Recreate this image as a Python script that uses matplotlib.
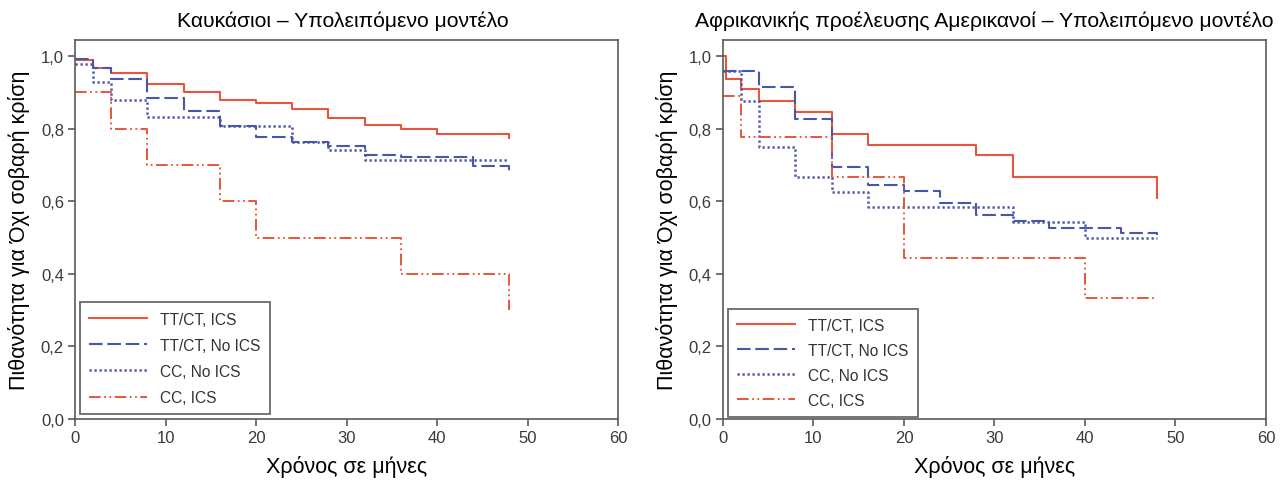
import matplotlib
matplotlib.use("Agg")
import matplotlib.pyplot as plt
from matplotlib.ticker import FuncFormatter

plt.rcParams['font.family'] = ['Liberation Sans', 'DejaVu Sans']

RED = '#e8553d'
BLUE = '#4a57a8'
FRAME = '#5a5a5a'

labels = ["TT/CT, ICS", "TT/CT, No ICS", "CC, No ICS", "CC, ICS"]
titles = ["Καυκάσιοι – Υπολειπόμενο μοντέλο",
          "Αφρικανικής προέλευσης Αμερικανοί – Υπολειπόμενο μοντέλο"]
xlabel = "Χρόνος σε μήνες"
ylabel = "Πιθανότητα για Όχι σοβαρή κρίση"
xticks = [0, 10, 20, 30, 40, 50, 60]
yticks = [0.0, 0.2, 0.4, 0.6, 0.8, 1.0]

# Caucasian panel: step times (months) and survival estimates
cau_t_ttct_ics = [0, 2, 4, 8, 12, 16, 20, 24, 28, 32, 36, 40, 48]
cau_s_ttct_ics = [0.99, 0.968, 0.952, 0.923, 0.90, 0.88, 0.871, 0.853, 0.829, 0.809, 0.80, 0.786, 0.775]
cau_t_ttct_no = [0, 2, 4, 8, 12, 16, 20, 24, 28, 32, 36, 44, 48]
cau_s_ttct_no = [0.993, 0.966, 0.936, 0.884, 0.850, 0.807, 0.777, 0.762, 0.752, 0.727, 0.722, 0.697, 0.677]
cau_t_cc_no = [0, 2, 4, 8, 16, 24, 28, 32, 48]
cau_s_cc_no = [0.977, 0.929, 0.880, 0.832, 0.807, 0.764, 0.740, 0.714, 0.714]
cau_t_cc_ics = [0, 4, 8, 16, 20, 36, 48]
cau_s_cc_ics = [0.9, 0.8, 0.7, 0.6, 0.5, 0.4, 0.3]

# African American panel
afr_t_ttct_ics = [0, 0.3, 2, 4, 8, 12, 16, 28, 32, 48]
afr_s_ttct_ics = [1.0, 0.938, 0.909, 0.875, 0.845, 0.786, 0.756, 0.727, 0.667, 0.609]
afr_t_ttct_no = [0, 4, 8, 12, 16, 20, 24, 28, 32, 36, 44, 48]
afr_s_ttct_no = [0.959, 0.915, 0.827, 0.695, 0.645, 0.627, 0.595, 0.562, 0.545, 0.527, 0.512, 0.507]
afr_t_cc_no = [0, 2, 4, 8, 12, 16, 32, 40, 48]
afr_s_cc_no = [0.958, 0.875, 0.75, 0.667, 0.625, 0.583, 0.542, 0.50, 0.50]
afr_t_cc_ics = [0, 2, 12, 20, 40, 48]
afr_s_cc_ics = [0.889, 0.778, 0.667, 0.444, 0.333, 0.333]

styles = [
    dict(color=RED, lw=1.5, linestyle='-'),
    dict(color=BLUE, lw=1.5, linestyle=(0, (6.5, 2.3))),
    dict(color=BLUE, lw=1.8, linestyle=(0, (0.9, 1.1))),
    dict(color=RED, lw=1.4, linestyle=(0, (6, 1.8, 0.9, 1.8, 0.9, 1.8))),
]

panels = [
    [(cau_t_ttct_ics, cau_s_ttct_ics), (cau_t_ttct_no, cau_s_ttct_no),
     (cau_t_cc_no, cau_s_cc_no), (cau_t_cc_ics, cau_s_cc_ics)],
    [(afr_t_ttct_ics, afr_s_ttct_ics), (afr_t_ttct_no, afr_s_ttct_no),
     (afr_t_cc_no, afr_s_cc_no), (afr_t_cc_ics, afr_s_cc_ics)],
]
title_x = [0.4926, 0.4816]
legend_y = [0.012, 0.005]
legend_gap = [0.72, 0.64]

fig = plt.figure(figsize=(12.85, 4.85), dpi=100)
axes = [fig.add_axes([0.0584, 0.134, 0.4226, 0.782]),
        fig.add_axes([0.5626, 0.134, 0.4226, 0.782])]

comma = FuncFormatter(lambda v, p: f"{v:.1f}".replace('.', ','))

for ax, curves, title, tx, ly, lg in zip(axes, panels, titles, title_x, legend_y, legend_gap):
    for (t, s), st, lab in zip(curves, styles, labels):
        ax.step(t, s, where='post', label=lab, **st)
    ax.set_xlim(0, 60)
    ax.set_ylim(0, 1.045)
    ax.set_xticks(xticks)
    ax.set_yticks(yticks)
    ax.yaxis.set_major_formatter(comma)
    ax.tick_params(direction='out', length=5, width=1.2, color=FRAME,
                   labelsize=12, labelcolor='#3a3a3a', pad=3)
    for sp in ax.spines.values():
        sp.set_color(FRAME)
        sp.set_linewidth(1.2)
    ax.set_title(title, fontsize=15.2, pad=10, x=tx)
    ax.set_xlabel(xlabel, fontsize=15.5, labelpad=7)
    ax.set_ylabel(ylabel, fontsize=15.5, labelpad=8)
    leg = ax.legend(loc='lower left', bbox_to_anchor=(0.009, ly), borderaxespad=0,
                    fontsize=11.2, handlelength=3.7, handletextpad=0.85,
                    labelspacing=lg, borderpad=0.6, fancybox=False,
                    edgecolor='#6a6a6a', framealpha=1)
    leg.get_frame().set_linewidth(1.3)
    for txt in leg.get_texts():
        txt.set_color('#333333')

fig.savefig("out.png", dpi=100)
